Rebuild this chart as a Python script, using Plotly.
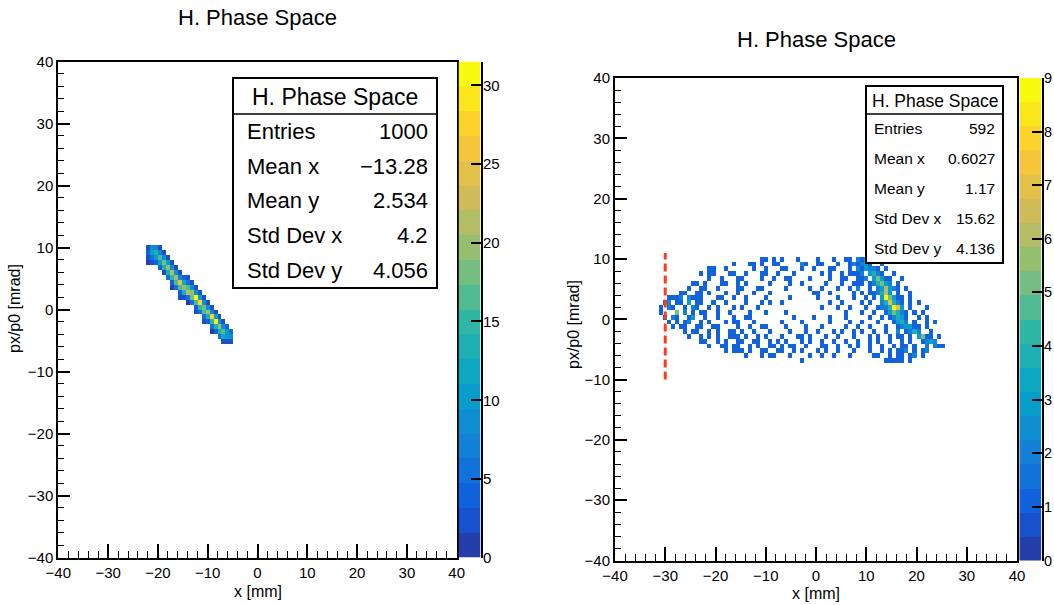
import numpy as np
import plotly.graph_objects as go

W, H = 1054, 605
FONT = "Liberation Sans, Arial, Helvetica, sans-serif"

# Histogram binning: 100 x 100 bins over [-40, 40] on both axes
NBINS = 100
LO, HI = -40.0, 40.0
BW = (HI - LO) / NBINS
centers = LO + BW * (np.arange(NBINS) + 0.5)

# ---------------- left histogram (narrow correlated band) ----------------
# one entry per occupied x column: bin centre x, centre y of the top filled bin,
# and the bin contents going downwards from that bin
left_x = [-22.0, -21.2, -20.4, -19.6, -18.8, -18.0, -17.2, -16.4, -15.6, -14.8, -14.0,
          -13.2, -12.4, -11.6, -10.8, -10.0, -9.2, -8.4, -7.6, -6.8, -6.0, -5.2]
left_top_y = [10.0, 10.0, 10.0, 10.0, 9.2, 8.4, 7.6, 6.8, 6.0, 5.2, 5.2,
              4.4, 3.6, 2.8, 2.0, 1.2, 0.4, -0.4, -1.2, -2.0, -2.8, -3.6]
left_counts = [
    [2, 4, 3, 1], [8, 10, 6, 2], [9, 13, 11, 4], [2, 7, 16, 11, 4],
    [3, 9, 18, 13, 3], [2, 10, 20, 14, 5], [3, 8, 22, 15, 4, 1],
    [2, 9, 19, 17, 6], [3, 7, 25, 16, 4, 2], [4, 12, 20, 14, 3],
    [2, 6, 17, 21, 5, 1], [3, 8, 19, 18, 6], [2, 9, 30, 16, 4, 2],
    [3, 10, 27, 15, 5], [2, 8, 18, 17, 6, 2], [3, 9, 20, 14, 4],
    [2, 7, 28, 15, 5, 1], [3, 10, 30, 13, 4], [2, 8, 19, 14, 5],
    [3, 9, 16, 12, 3], [4, 10, 11, 3], [5, 8, 2],
]
left_zmax = 31.5
left_ztick = [0, 5, 10, 15, 20, 25, 30]
left_stats = [("Entries", "1000"), ("Mean x", "\u221213.28"), ("Mean y", "2.534"),
              ("Std Dev x", "4.2"), ("Std Dev y", "4.056")]

# ---------------- right histogram (transported beam) ----------------
# rows of bin contents, top row first; '.' is an empty bin
right_first_x = -30.8
right_top_y = 10.0
right_rows = [
    ".........." ".........." ".....11.1." "1...1....1" "...1..11.2" "13..1....." ".........." "..",
    ".........." "........1." "..11.1..11" ".....21..1" "1...1..121" "231..1...." ".........." "..",
    ".........." "..11..1..." "...1..1..." "11...1..1." "..11...1.2" "13221.1..." ".........." "..",
    ".........." "1.11...11." ".1...11..1" "...1......" "1.1..1.111" "2.3421..1." ".........." "..",
    ".........." "..1..1...1" "1....1..1." ".11....1.." "..1..11..1" "12.35311.." "1........." "..",
    "........11" ".1...11..1" ".1.....1.." "..1..1...." ".1...1..11" "1.124532.1" ".........." "..",
    ".......1.." "11..1....1" "1...11...." ".1.....1.." "1...1..1.2" "..1.236321" ".1........" "..",
    ".....11..1" "1.1...1..1" "...1...1.." "........11" "..1.....1." "1.112463.1" "..1......." "..",
    "..1112.211" "1...11..1." ".1....1..." "..1......1" "....1...1." ".1.1.39531" "1.1......." "..",
    ".12.11.3.1" "1..1..1..." ".1...1.1.." "1........." "..1..1...." "1.1..24742" "1.1.1....." "..",
    "1.21..1.21" "..1.1...1." "1...1....." ".........." "1...1..1.." ".1..122497" "3.1...1..." "..",
    "1...5.2.1." "11..1..1.." "..1...1..." ".1........" "......1..." "1..1..1354" "21.1.1...." "..",
    ".1.21..13." ".1..1...1." ".11......." "...1....1." "..1...1..." "..1..1.124" "31..1.1..." "..",
    "..1.1.12.." "1.1...1.11" "...1......" "1....1...." "..1....1.." "1...1...13" "42.1..1.1." "..",
    "...1.11..1" "1..11....1" "..1..11..." ".1....1..." "1.....1..1" "..1...1..1" "23311.1..." "..",
    "......1.11" "..1.1..11." "1..1...1.." "..1...1..1" "...1.1..1." "1..1..1..2" ".1242..1.." "..",
    ".......1.." "1.1.1..111" ".1..1.1..." "1...11.1.." ".1..1...1." "..1.1..1.1" "1.1.3511.1" "..",
    ".........." "11..1.1..1" "1..11..1.1" ".1...1.1.." "1..1..1..1" "..1.1..1.." "1.1..1232." "..",
    ".........." "..1..11.11" "..1.1..11." "1.11..1..." "11..1..1.1" "..1..1..1." "11.1..2.21" "1.",
    ".........." "......1.11" "1.1..11..1" "1..1.1...1" ".1..1...1." "..1..1.1.1" "12.1.12..." "..",
    ".........." ".........." ".1...1.11." "..1....1.." "1..1...1.." "...11..1.1" "1.12.1...." "..",
    ".........." ".........." ".........." ".....1...." ".........." "......1111" "1.1......." "..",
]
right_zmax = 9
right_ztick = list(range(10))
right_stats = [("Entries", "592"), ("Mean x", "0.6027"), ("Mean y", "1.17"),
               ("Std Dev x", "15.62"), ("Std Dev y", "4.136")]

# vertical cut marker on the right plot
cut_x = -30.0
cut_y = [-10.0, 11.0]

TITLE = "H. Phase Space"
XTITLE = "x [mm]"
YTITLE = "px/p0 [mrad]"
NLEVELS = 20


def bin_index(v):
    return int(round((v - LO) / BW - 0.5))


def left_grid():
    z = np.full((NBINS, NBINS), np.nan)
    for x, ytop, counts in zip(left_x, left_top_y, left_counts):
        i = bin_index(x)
        j0 = bin_index(ytop)
        for k, n in enumerate(counts):
            z[j0 - k, i] = n
    return z


def right_grid():
    z = np.full((NBINS, NBINS), np.nan)
    i0 = bin_index(right_first_x)
    j0 = bin_index(right_top_y)
    for r, row in enumerate(right_rows):
        for c, ch in enumerate(row):
            if ch != ".":
                z[j0 - r, i0 + c] = int(ch)
    return z


# ROOT "bird" palette, drawn as discrete contour levels
BIRD_S = [0.0, 0.125, 0.25, 0.375, 0.5, 0.625, 0.75, 0.875, 1.0]
BIRD_R = [0.2082, 0.0592, 0.0780, 0.0232, 0.1802, 0.5301, 0.8186, 0.9956, 0.9764]
BIRD_G = [0.1664, 0.3599, 0.5041, 0.6419, 0.7178, 0.7492, 0.7328, 0.7862, 0.9832]
BIRD_B = [0.5293, 0.8684, 0.8385, 0.7914, 0.6425, 0.4662, 0.3499, 0.1968, 0.0539]


def bird(t):
    r = np.interp(t, BIRD_S, BIRD_R)
    g = np.interp(t, BIRD_S, BIRD_G)
    b = np.interp(t, BIRD_S, BIRD_B)
    return "rgb(%d,%d,%d)" % (round(r * 255), round(g * 255), round(b * 255))


def banded_scale(n=NLEVELS):
    scale = []
    for k in range(n):
        col = bird((k + 0.99) / n)
        scale.append([k / n, col])
        scale.append([(k + 1) / n, col])
    return scale


def px_x(p):
    return p / W


def px_y(p):
    return 1 - p / H


# pixel geometry of the frames: (left, right, top, bottom)
LF = (58.3, 456.7, 61.5, 557.5)
RF = (615.0, 1017.0, 78.0, 560.5)
# palette boxes: (left, right)
LP = (458.5, 480.5)
RP = (1019.3, 1041.5)

fig = go.Figure()
scale = banded_scale()

fig.add_trace(go.Heatmap(
    x=centers, y=centers, z=left_grid(), zmin=0, zmax=left_zmax,
    colorscale=scale, hoverinfo="skip", xaxis="x", yaxis="y", showscale=False,
))
fig.add_trace(go.Heatmap(
    x=centers, y=centers, z=right_grid(), zmin=0, zmax=right_zmax,
    colorscale=scale, hoverinfo="skip", xaxis="x2", yaxis="y2", showscale=False,
))
fig.add_trace(go.Scatter(
    x=[cut_x, cut_x], y=cut_y, mode="lines", xaxis="x2", yaxis="y2",
    line=dict(color="#ff3b1f", width=3, dash="8px,4px"), hoverinfo="skip",
    showlegend=False,
))

# palettes drawn as one-column heatmaps of the contour levels
for zmax, xa, ya in ((left_zmax, "x3", "y3"), (right_zmax, "x4", "y4")):
    lev = [(k + 0.5) * zmax / NLEVELS for k in range(NLEVELS)]
    fig.add_trace(go.Heatmap(
        x=[0], y=lev, z=[[v] for v in lev], zmin=0, zmax=zmax,
        colorscale=scale, showscale=False, hoverinfo="skip", xaxis=xa, yaxis=ya,
    ))


def axis(frame, horizontal, anchor):
    if horizontal:
        dom = [px_x(frame[0]), px_x(frame[1])]
        tl, ml = 14, 7
    else:
        dom = [px_y(frame[3]), px_y(frame[2])]
        tl, ml = 12, 6
    return dict(
        domain=dom, anchor=anchor, range=[LO, HI], showgrid=False, zeroline=False,
        showline=True, linecolor="black", linewidth=2, mirror=True,
        ticks="inside", ticklen=tl, tickwidth=1.5, tickcolor="black",
        tick0=-40, dtick=10, automargin=False,
        tickfont=dict(family=FONT, size=15, color="black"),
        minor=dict(ticks="inside", ticklen=ml, tickwidth=1.2, tickcolor="black",
                   dtick=2, showgrid=False),
        fixedrange=True,
    )


def palette_axes(frame, pbox, zmax, zticks, xname):
    xa = dict(domain=[px_x(pbox[0]), px_x(pbox[1])], range=[-0.5, 0.5], visible=False,
              anchor="y" + xname[1:], fixedrange=True, automargin=False)
    ya = dict(domain=[px_y(frame[3]), px_y(frame[2])], range=[0, zmax], anchor=xname,
              side="right", showgrid=False, zeroline=False, showline=True,
              linecolor="black", linewidth=1.5, ticks="inside", ticklen=10,
              tickwidth=1.5, tickcolor="black", tickmode="array", tickvals=zticks,
              showticklabels=False, automargin=False, fixedrange=True)
    return xa, ya


x3, y3 = palette_axes(LF, LP, left_zmax, left_ztick, "x3")
x4, y4 = palette_axes(RF, RP, right_zmax, right_ztick, "x4")

shapes = []
annotations = []


def text(x, y, s, size, xanchor="center", angle=0):
    annotations.append(dict(
        x=px_x(x), y=px_y(y), xref="paper", yref="paper", text=s, showarrow=False,
        xanchor=xanchor, yanchor="middle", textangle=angle, borderpad=0,
        font=dict(family=FONT, size=size, color="black"),
    ))


def palette_labels(frame, pbox, zmax, zticks, size):
    # tick labels just right of the palette axis line
    for t in zticks:
        yp = frame[3] - (frame[3] - frame[2]) * t / zmax
        text(pbox[1] + 1.0, yp, str(t), size, xanchor="left")


palette_labels(LF, LP, left_zmax, left_ztick, 15)
palette_labels(RF, RP, right_zmax, right_ztick, 14.5)


def stats_box(box, header_bottom, rows, size, head_size, lab_x, val_x):
    x0, y0, x1, y1 = box
    shapes.append(dict(type="rect", xref="paper", yref="paper",
                       x0=px_x(x0), x1=px_x(x1), y0=px_y(y1), y1=px_y(y0),
                       line=dict(color="black", width=2), fillcolor="white", layer="above"))
    shapes.append(dict(type="line", xref="paper", yref="paper",
                       x0=px_x(x0), x1=px_x(x1), y0=px_y(header_bottom), y1=px_y(header_bottom),
                       line=dict(color="black", width=1.5), layer="above"))
    text((x0 + x1) / 2, (y0 + header_bottom) / 2 + 1, TITLE, head_size)
    step = (y1 - header_bottom) / len(rows)
    for k, (lab, val) in enumerate(rows):
        yc = header_bottom + step * (k + 0.5)
        text(lab_x, yc, lab, size, xanchor="left")
        text(val_x, yc, val, size, xanchor="right")


stats_box((233, 78, 437, 288), 114, left_stats, 22, 23, 246, 429)
stats_box((866, 86, 1003, 263), 114, right_stats, 15.5, 17.5, 873, 996)

# titles and axis labels
text(257, 18, TITLE, 22)
text(816, 39, TITLE, 22)
text((LF[0] + LF[1]) / 2, 591, XTITLE, 16)
text((RF[0] + RF[1]) / 2, 593, XTITLE, 16)
text(14, 309, YTITLE, 16, angle=-90)
text(573, 325, YTITLE, 16, angle=-90)

fig.update_layout(
    template="none",
    width=W, height=H, autosize=False,
    margin=dict(l=0, r=0, t=0, b=0, pad=0, autoexpand=False),
    paper_bgcolor="white", plot_bgcolor="white",
    showlegend=False,
    xaxis=axis(LF, True, "y"), yaxis=axis(LF, False, "x"),
    xaxis2=axis(RF, True, "y2"), yaxis2=axis(RF, False, "x2"),
    xaxis3=x3, yaxis3=y3, xaxis4=x4, yaxis4=y4,
    shapes=shapes, annotations=annotations,
)

fig.write_html("out.html")
